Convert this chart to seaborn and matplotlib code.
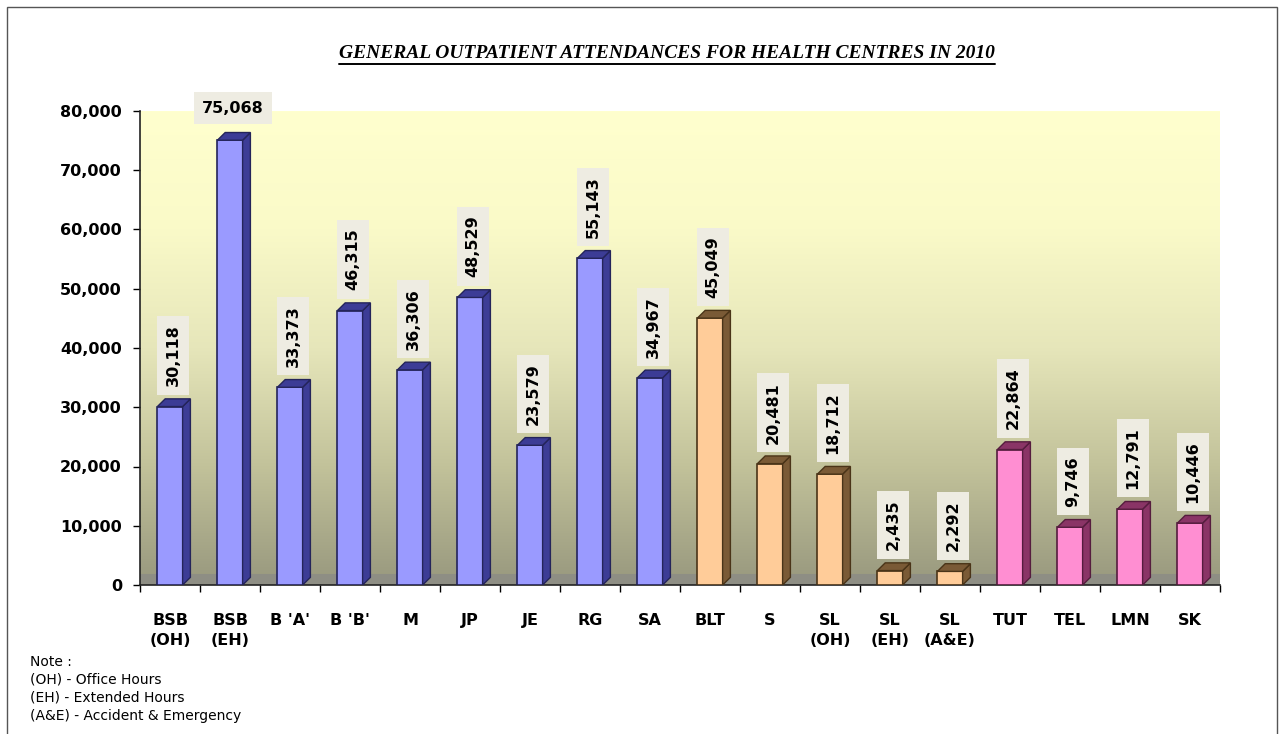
import numpy as np
import matplotlib
matplotlib.use("Agg")
import matplotlib.pyplot as plt
import seaborn as sns
from matplotlib.colors import LinearSegmentedColormap
from matplotlib.patches import Polygon, Rectangle
from matplotlib.ticker import FuncFormatter

centres = ["BSB\n(OH)", "BSB\n(EH)", "B 'A'", "B 'B'", "M", "JP", "JE", "RG", "SA",
           "BLT", "S", "SL\n(OH)", "SL\n(EH)", "SL\n(A&E)", "TUT", "TEL", "LMN", "SK"]
attendances = [30118, 75068, 33373, 46315, 36306, 48529, 23579, 55143, 34967,
               45049, 20481, 18712, 2435, 2292, 22864, 9746, 12791, 10446]
groups = ["a"] * 9 + ["b"] * 5 + ["c"] * 4

face = {"a": "#9A9AFF", "b": "#FFCC99", "c": "#FF8ED2"}
side = {"a": "#3C3C96", "b": "#7A5A36", "c": "#8A3466"}
edge = {"a": "#24245A", "b": "#4A3418", "c": "#551C3E"}

sns.set_style("white")
plt.rcParams["font.family"] = ["DejaVu Sans"]
plt.rcParams["text.color"] = "black"
plt.rcParams["xtick.color"] = "black"
plt.rcParams["ytick.color"] = "black"

fig = plt.figure(figsize=(12.82, 7.34), dpi=100)
ax = fig.add_axes([140 / 1282, 1 - 585 / 734, 1080 / 1282, 474 / 734])

# gradient back wall
cmap = LinearSegmentedColormap.from_list("wall", ["#98987E", "#C2C29A", "#E6E6BA", "#FAFAC8", "#FFFFCE"])
grad = np.linspace(0, 1, 256)[:, None]
ax.imshow(grad, extent=[-0.5, len(centres) - 0.5, 0, 80000], origin="lower",
          aspect="auto", cmap=cmap, zorder=0)

sns.barplot(x=centres, y=attendances, hue=groups, palette=face, dodge=False,
            legend=False, width=0.42, saturation=1, ax=ax, zorder=3)
bars = list(ax.patches)

# fake 3d depth from the bar geometry
dx, dy = 0.13, 1300
for bar, g in zip(bars, groups):
    x0, w, h = bar.get_x(), bar.get_width(), bar.get_height()
    bar.set_edgecolor(edge[g])
    bar.set_linewidth(1.2)
    ax.add_patch(Polygon([(x0 + w, 0), (x0 + w + dx, dy), (x0 + w + dx, h + dy), (x0 + w, h)],
                         closed=True, facecolor=side[g], edgecolor=edge[g], lw=1, zorder=3))
    ax.add_patch(Polygon([(x0, h), (x0 + w, h), (x0 + w + dx, h + dy), (x0 + dx, h + dy)],
                         closed=True, facecolor=side[g], edgecolor=edge[g], lw=1, zorder=3))

# floor
ax.axhspan(0, 1800, facecolor="#8E8E84", lw=0, zorder=1)

# value labels
for i, v in enumerate(attendances):
    txt = f"{v:,}"
    if v > 70000:
        ax.text(i + 0.05, v + 5400, txt, ha="center", va="center", fontsize=11.5,
                fontweight="bold", clip_on=False, zorder=5,
                bbox=dict(facecolor="#EEECE2", edgecolor="none", pad=6))
    else:
        ax.text(i + 0.05, v + 3400, txt, ha="center", va="bottom", rotation=90,
                fontsize=11.5, fontweight="bold", zorder=5,
                bbox=dict(facecolor="#EEECE2", edgecolor="none", pad=6))

ax.set_xlim(-0.5, len(centres) - 0.5)
ax.set_ylim(0, 80000)
ax.set_yticks(np.arange(0, 80001, 10000))
ax.yaxis.set_major_formatter(FuncFormatter(lambda v, p: f"{int(v):,}"))
ax.set_xticks(range(len(centres)))
ax.set_xticks(np.arange(len(centres) + 1) - 0.5, minor=True)
ax.tick_params(axis="x", which="major", length=0, pad=20)
ax.tick_params(axis="x", which="minor", length=5, width=1, direction="out", bottom=True)
ax.tick_params(axis="y", length=5, width=1, direction="out", left=True, pad=8)
for lab in ax.get_xticklabels() + ax.get_yticklabels():
    lab.set_fontweight("bold")
    lab.set_fontsize(11.5)
for lab in ax.get_xticklabels():
    lab.set_linespacing(1.45)
for s in ["top", "right"]:
    ax.spines[s].set_visible(False)
for s in ["left", "bottom"]:
    ax.spines[s].set_color("#222222")
    ax.spines[s].set_linewidth(1.2)

# title with underline
title = fig.text(0.5205, 1 - 53 / 734, "GENERAL OUTPATIENT ATTENDANCES FOR HEALTH CENTRES IN 2010",
                 ha="center", va="center", fontsize=14, fontweight="bold", style="italic",
                 family=["Liberation Serif"])
fig.canvas.draw()
bb = title.get_window_extent().transformed(fig.transFigure.inverted())
fig.add_artist(plt.Line2D([bb.x0, bb.x1], [bb.y0 - 0.004, bb.y0 - 0.004],
                          transform=fig.transFigure, color="black", lw=1.4))

note = "Note :\n(OH) - Office Hours\n(EH) - Extended Hours\n(A&E) - Accident & Emergency"
fig.text(30 / 1282, 1 - 655 / 734, note, ha="left", va="top", fontsize=10, linespacing=1.35)

fig.add_artist(Rectangle((7 / 1282, -0.01), 1270 / 1282, 1 - 7 / 734 + 0.01,
                         transform=fig.transFigure, fill=False, edgecolor="#555555", lw=1))

fig.savefig("out.png", dpi=100)
